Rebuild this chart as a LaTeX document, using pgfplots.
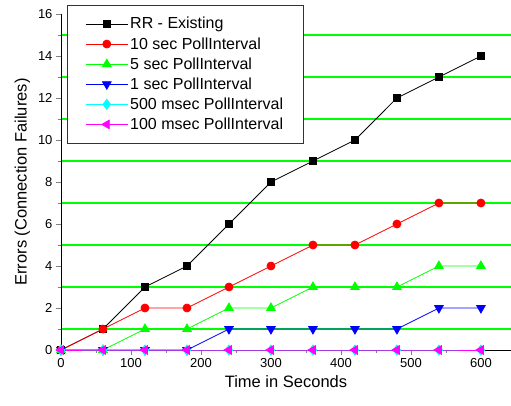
\documentclass[border=0pt]{standalone}
\usepackage{fontspec}
\setmainfont{Liberation Sans}
\usepackage{pgfplots}
\usetikzlibrary{calc}
\pgfplotsset{compat=1.18}
\definecolor{gline}{RGB}{0,255,0}
\definecolor{cyanm}{RGB}{0,255,255}
\definecolor{magm}{RGB}{255,0,255}
\begin{document}
\begin{tikzpicture}
\begin{axis}[
  scale only axis, width=450pt, height=336pt,
  xmin=0, xmax=643, ymin=0, ymax=16,
  axis lines*=left,
  clip=false,
  xtick={0,100,...,600}, minor xtick={50,150,...,550},
  ytick={0,2,...,16}, minor ytick={1,3,...,15},
  tick align=outside, major tick length=5pt, minor tick length=3pt,
  yminorgrids=true,
  minor grid style={gline, line width=2pt},
  axis line style={black, line width=0.8pt},
  /pgf/number format/assume math mode=true,
  ticklabel style={font=\fontsize{13}{15}\selectfont},
  xlabel={Time in Seconds}, ylabel={Errors (Connection Failures)},
  label style={font=\fontsize{16.5}{18}\selectfont},
  xlabel style={yshift=-1pt},
  ylabel style={yshift=1pt},
  legend cell align=left,
  legend style={at={(rel axis cs:0,1)}, anchor=north west, xshift=6pt, yshift=9pt,
    draw=black!80, fill=white, line width=0.8pt, font=\fontsize{16}{18}\selectfont,
    row sep=3pt, inner xsep=18pt, inner ysep=10pt},
  legend image code/.code={\draw[mark repeat=2,mark phase=2] plot coordinates {(0pt,0pt)(21pt,0pt)(42pt,0pt)};},
  every axis plot/.append style={line width=0.8pt},
]
\coordinate (ll) at (rel axis cs:0,0);
\coordinate (ur) at (rel axis cs:1,1);
\addplot[black, mark=square*, mark size=3.5pt, mark options={solid}] coordinates {
(0,0)(60,1)(120,3)(180,4)(240,6)(300,8)(360,9)(420,10)(480,12)(540,13)(600,14)};
\addlegendentry{RR - Existing}
\addplot[red, mark=*, mark size=4pt] coordinates {
(0,0)(60,1)(120,2)(180,2)(240,3)(300,4)(360,5)(420,5)(480,6)(540,7)(600,7)};
\addlegendentry{10 sec PollInterval}
\addplot[gline, mark=triangle*, mark size=5pt] coordinates {
(0,0)(60,0)(120,1)(180,1)(240,2)(300,2)(360,3)(420,3)(480,3)(540,4)(600,4)};
\addlegendentry{5 sec PollInterval}
\addplot[blue, mark=triangle*, mark size=5pt, mark options={rotate=180}] coordinates {
(0,0)(60,0)(120,0)(180,0)(240,1)(300,1)(360,1)(420,1)(480,1)(540,2)(600,2)};
\addlegendentry{1 sec PollInterval}
\addplot[cyanm, mark=diamond*, mark size=5pt] coordinates {
(0,0)(60,0)(120,0)(180,0)(240,0)(300,0)(360,0)(420,0)(480,0)(540,0)(600,0)};
\addlegendentry{500 msec PollInterval}
\addplot[magm, mark=triangle*, mark size=5pt, mark options={rotate=90}] coordinates {
(0,0)(60,0)(120,0)(180,0)(240,0)(300,0)(360,0)(420,0)(480,0)(540,0)(600,0)};
\addlegendentry{100 msec PollInterval}
\end{axis}
\pgfresetboundingbox
\path[use as bounding box] ($(ll)+(-61pt,-55pt)$) rectangle ($(ur)+(0pt,14pt)$);
\end{tikzpicture}
\end{document}
